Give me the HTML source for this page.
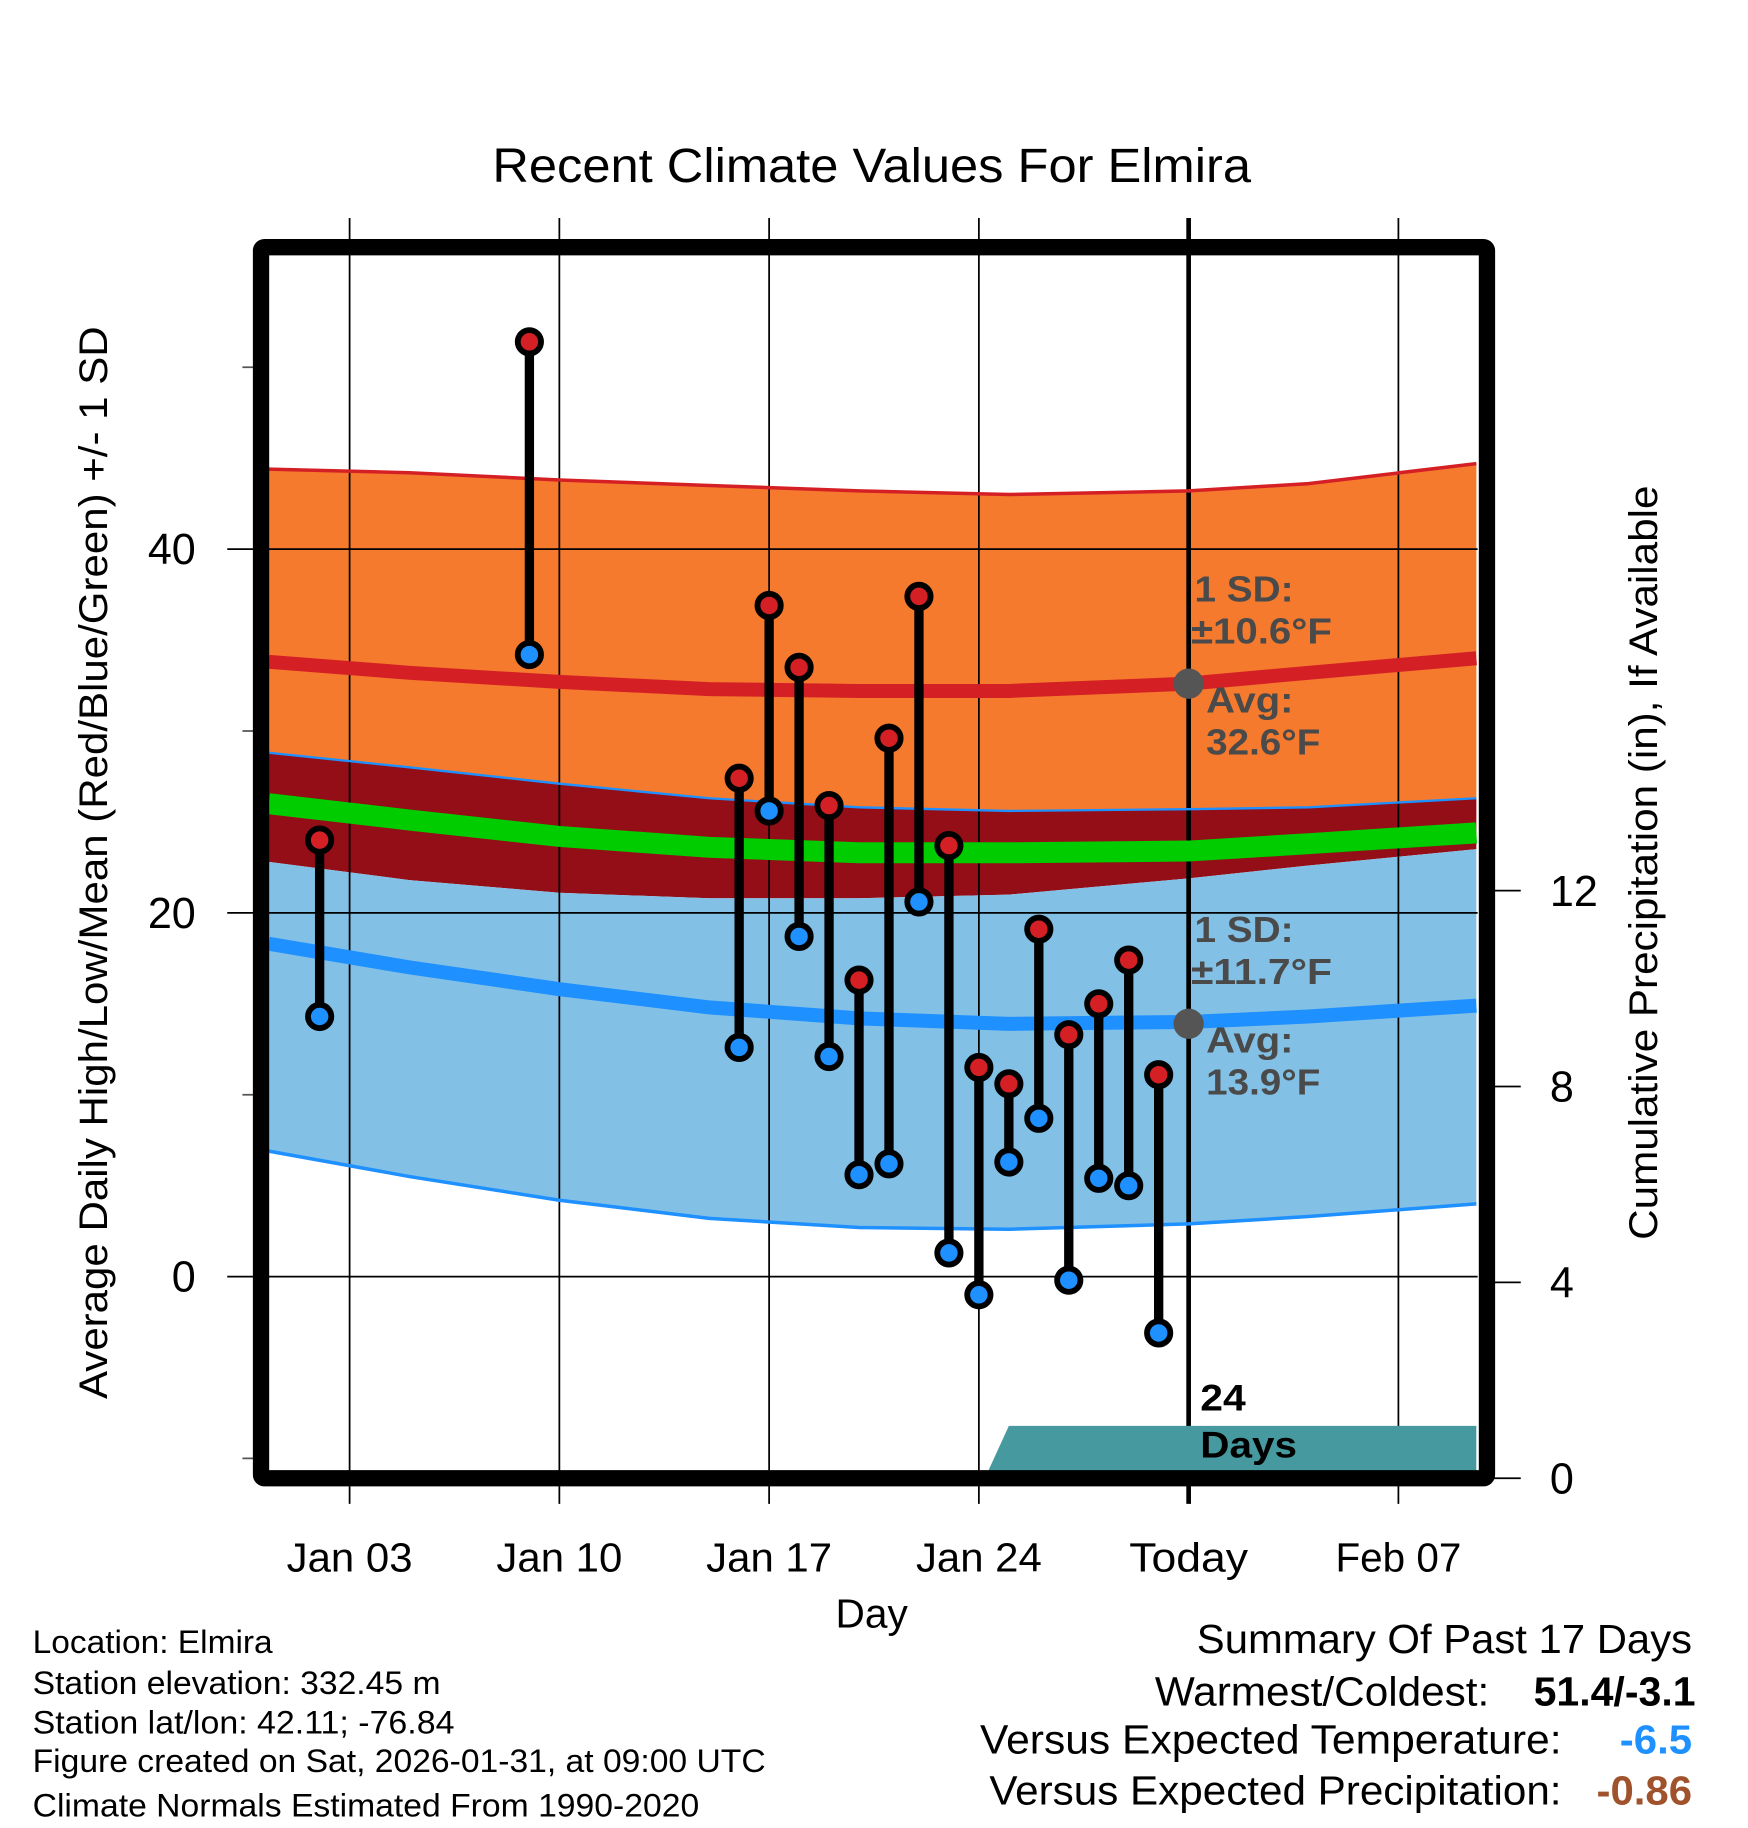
<!DOCTYPE html>
<html><head><meta charset="utf-8"><style>
html,body{margin:0;padding:0;background:#fff;}
svg{display:block;font-family:"Liberation Sans",Arial,sans-serif;}
</style></head><body>
<svg id="chart" width="1748" height="1828" viewBox="0 0 1500 1568" preserveAspectRatio="none">
<g id="bands"></g><g id="grid"></g><g id="lines"></g><g id="precip"></g><g id="marks"></g><g id="frame"></g><g id="labels"></g>
</svg>
<script>
const dates=[2,9,16,17,18,19,20,21,22,23,24,25,26,27,28,29,30];
const highs=[24.0,51.4,27.4,36.9,33.5,25.9,16.3,29.6,37.4,23.7,11.5,10.6,19.1,13.3,15.0,17.4,11.1];
const lows=[14.3,34.2,12.6,25.6,18.7,12.1,5.6,6.2,20.6,1.3,-1.0,6.3,8.7,-0.2,5.4,5.0,-3.1];
const normDays=[0.3,5,10,15,20,25,31,35,40.6];
const avgHigh=[33.8,33.2,32.7,32.3,32.2,32.2,32.6,33.2,34.0];
const highUpper=[44.4,44.2,43.8,43.5,43.2,43.0,43.2,43.6,44.7];
const highLower=[28.8,28.0,27.1,26.3,25.8,25.6,25.7,25.8,26.3];
const avgMean=[26.0,25.1,24.2,23.6,23.3,23.3,23.4,23.8,24.4];
const avgLow=[18.3,17.0,15.8,14.8,14.2,13.9,14.0,14.3,14.9];
const lowUpper=[22.8,21.8,21.1,20.8,20.8,21.0,21.9,22.6,23.5];
const lowLower=[6.9,5.5,4.2,3.2,2.7,2.6,2.9,3.3,4.0];
const precipDays=[24.2,25.0,40.6];
const precipVals=[0,1.07,1.07];
const yTicks=[0,20,40];const yMinor=[-10,10,30,50];
const rTicks=[0,4,8,12];
const xTickDays=[3,10,17,24,31,38];
const xTickLabels=["Jan 03","Jan 10","Jan 17","Jan 24","Today","Feb 07"];
const L=231,R=1268,T=219,B=1261;
const X=d=>300+(d-3)*(180/7);
const Y=v=>1095-v*15.6;
const YP=v=>1268-v*42;
const NS="http://www.w3.org/2000/svg";
function mk(p,t,a){const e=document.createElementNS(NS,t);for(const k in a)e.setAttribute(k,a[k]);document.getElementById(p).appendChild(e);return e;}
function pts(arr){return normDays.map((d,i)=>X(d).toFixed(1)+","+Y(arr[i]).toFixed(1));}
function band(up,lo,fill,name){const p=pts(up).concat(pts(lo).reverse());const e=mk('bands','polygon',{points:p.join(' '),fill:fill});

}
band(highUpper,highLower,'#f57a2e','high-sd-band');
band(highLower,lowUpper,'#930e16','overlap-band');
band(lowUpper,lowLower,'#82c0e6','low-sd-band');
function line(arr,col,w,name){const e=mk('lines','polyline',{points:pts(arr).join(' '),fill:'none',stroke:col,'stroke-width':w});

}
line(highUpper,'#d42025',3,'high-upper-line');
line(highLower,'#1e90ff',2,'high-lower-line');
line(avgMean,'#00cc00',18,'mean-line');
line(avgHigh,'#d42025',12,'avg-high-line');
line(avgLow,'#1e90ff',12,'avg-low-line');
line(lowLower,'#1e90ff',3,'low-lower-line');
xTickDays.forEach((d,i)=>{const x=X(d);
const g=mk('grid','line',{x1:x,x2:x,y1:187,y2:1290,stroke:'#000','stroke-width':d===31?4:1.5});


const t=mk('labels','text',{x:x,y:1348,'font-size':35,'text-anchor':'middle',textLength:xTickLabels[i]==='Today'?102:108,lengthAdjust:'spacingAndGlyphs'});t.textContent=xTickLabels[i];

});
yTicks.forEach(v=>{const y=Y(v);
const g=mk('grid','line',{x1:195,x2:R,y1:y,y2:y,stroke:'#000','stroke-width':1.5});


const t=mk('labels','text',{x:168,y:y+13,'font-size':37,'text-anchor':'end'});t.textContent=v;

});
yMinor.forEach(v=>{const e=mk('grid','line',{x1:208,x2:224,y1:Y(v),y2:Y(v),stroke:'#555','stroke-width':1.5});

});
rTicks.forEach(v=>{const y=YP(v);
const e=mk('grid','line',{x1:1276,x2:1305,y1:y,y2:y,stroke:'#000','stroke-width':1.5});


const t=mk('labels','text',{x:1330,y:y+13,'font-size':37});t.textContent=v;

});
const pp=precipDays.map((d,i)=>X(d)+","+YP(precipVals[i]));pp.push(X(40.6)+","+YP(0));
const pe=mk('precip','polygon',{points:pp.join(' '),fill:'#469a9f'});


dates.forEach((d,i)=>{const x=X(d);
const s=mk('marks','line',{x1:x,x2:x,y1:Y(highs[i]),y2:Y(lows[i]),stroke:'#000','stroke-width':8});


const h=mk('marks','circle',{cx:x,cy:Y(highs[i]),r:10,fill:'#d42025',stroke:'#000','stroke-width':5});


const l=mk('marks','circle',{cx:x,cy:Y(lows[i]),r:10,fill:'#1e90ff',stroke:'#000','stroke-width':5});

});
const g1=mk('marks','circle',{cx:X(31),cy:Y(32.6),r:13,fill:'#555'});


const g2=mk('marks','circle',{cx:X(31),cy:Y(13.9),r:13,fill:'#555'});


const fr=mk('frame','rect',{x:224,y:212,width:1052,height:1056,fill:'none',stroke:'#000','stroke-width':14,rx:3});


</script>
<script>
(function(){
const NS="http://www.w3.org/2000/svg";const svg=document.getElementById('labels');
function t(x,y,s,txt,name,w,o){const e=document.createElementNS(NS,'text');e.setAttribute('x',x);e.setAttribute('y',y);e.setAttribute('font-size',s);
if(w){e.setAttribute('textLength',w);e.setAttribute('lengthAdjust','spacingAndGlyphs');}
for(const k in (o||{}))e.setAttribute(k,o[k]);e.textContent=txt;


svg.appendChild(e);return e;}
t(748,156,41,'Recent Climate Values For Elmira','chart-title',651,{'text-anchor':'middle'});
t(748,1396,35,'Day','x-axis-title',62,{'text-anchor':'middle'});
t(92,740,34,'Average Daily High/Low/Mean (Red/Blue/Green) +/- 1 SD','y-axis-title',920,{'text-anchor':'middle',transform:'rotate(-90 92 740)'});
t(1422,740,34,'Cumulative Precipitation (in), If Available','right-axis-title',647,{'text-anchor':'middle',transform:'rotate(-90 1422 740)'});
const gs={'font-size':31,'font-weight':'bold',fill:'#4a4a4a'};
t(1025,516,31,'1 SD:','high-sd-label',85,gs);t(1022,552,31,'±10.6°F','high-sd-value',121,gs);
t(1035,611,31,'Avg:','high-avg-label',75,gs);t(1035,647,31,'32.6°F','high-avg-value',98,gs);
t(1025,808,31,'1 SD:','low-sd-label',85,gs);t(1022,844,31,'±11.7°F','low-sd-value',121,gs);
t(1035,903,31,'Avg:','low-avg-label',75,gs);t(1035,939,31,'13.9°F','low-avg-value',98,gs);
t(1030,1210,32,'24','precip-days-number',39,{'font-weight':'bold'});t(1030,1250,32,'Days','precip-days-label',83,{'font-weight':'bold'});
const info=['Location: Elmira','Station elevation: 332.45 m','Station lat/lon: 42.11; -76.84','Figure created on Sat, 2026-01-31, at 09:00 UTC','Climate Normals Estimated From 1990-2020'];
const iw=[206,350,362,629,572];
const iy=[1418,1453,1487,1520,1558];
info.forEach((s,i)=>t(28,iy[i],28,s,'station-info-line',iw[i]));
t(1452,1418,35,'Summary Of Past 17 Days','summary-title',425,{'text-anchor':'end'});
t(1278,1463,35,'Warmest/Coldest:','warmest-coldest-label',287,{'text-anchor':'end'});
t(1455,1463,35,'51.4/-3.1','warmest-coldest-value',139,{'text-anchor':'end','font-weight':'bold'});
t(1340,1504,35,'Versus Expected Temperature:','temp-anomaly-label',499,{'text-anchor':'end'});
t(1452,1504,35,'-6.5','temp-anomaly-value',62,{'text-anchor':'end','font-weight':'bold',fill:'#1e90ff'});
t(1340,1548,35,'Versus Expected Precipitation:','precip-anomaly-label',491,{'text-anchor':'end'});
t(1452,1548,35,'-0.86','precip-anomaly-value',82,{'text-anchor':'end','font-weight':'bold',fill:'#a0522d'});
})();
</script>
</body></html>
